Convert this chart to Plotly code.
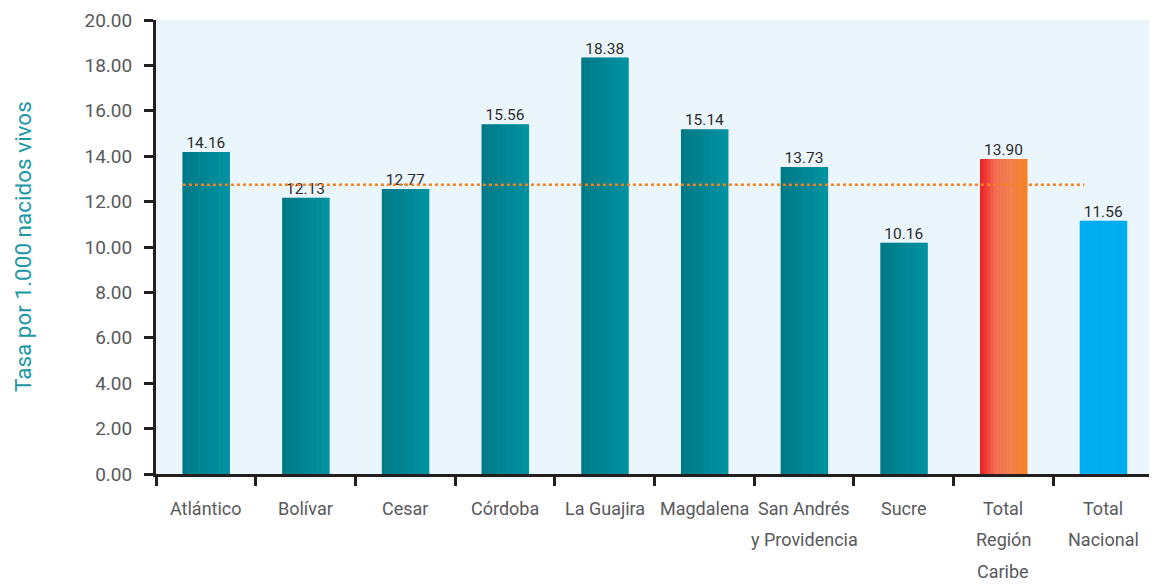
import plotly.graph_objects as go

categories = ["Atlántico", "Bolívar", "Cesar", "Córdoba", "La Guajira", "Magdalena",
              "San Andrés y Providencia", "Sucre", "Total Región Caribe", "Total Nacional"]
tick_labels = ["Atlántico", "Bolívar", "Cesar", "Córdoba", "La Guajira", "Magdalena",
               "San Andrés<br>y Providencia", "Sucre", "Total<br>Región<br>Caribe", "Total<br>Nacional"]
bar_values = [14.18, 12.17, 12.56, 15.41, 18.35, 15.19, 13.52, 10.19, 13.88, 11.16]
value_labels = ["14.16", "12.13", "12.77", "15.56", "18.38", "15.14", "13.73", "10.16", "13.90", "11.56"]
reference_value = 12.74
reference_span = [-0.23, 8.81]
y_ticks = [0, 2, 4, 6, 8, 10, 12, 14, 16, 18, 20]

FONT = "Roboto, Liberation Sans, sans-serif"

# colour gradients (left -> right) per bar
teal = [(0x00, 0x78, 0x86), (0x00, 0x93, 0xa2)]
orange = [(0xed, 0x1c, 0x24), (0xf2, 0x6e, 0x50), (0xf4, 0x80, 0x50), (0xf5, 0x82, 0x20)]
blue = [(0x00, 0xae, 0xef), (0x00, 0xae, 0xef)]
stops = [teal] * 8 + [orange, blue]


def interp(cols, t):
    n = len(cols) - 1
    pos = t * n
    i = min(int(pos), n - 1)
    f = pos - i
    a, b = cols[i], cols[i + 1]
    return "rgb(%d,%d,%d)" % tuple(round(a[k] + (b[k] - a[k]) * f) for k in range(3))


N = 14
bar_w = 0.47
fig = go.Figure()
for k in range(N):
    t = (k + 0.5) / N
    fig.add_trace(go.Bar(
        x=categories, y=bar_values,
        width=bar_w / N * 1.2, offset=-bar_w / 2 + k * bar_w / N,
        marker=dict(color=[interp(s, t) for s in stops], line=dict(width=0)),
        showlegend=False, hoverinfo="skip",
    ))

fig.add_trace(go.Scatter(
    x=categories, y=bar_values, mode="text", text=value_labels,
    textposition="top center",
    textfont=dict(family=FONT, size=15.5, color="#2b2b2b"),
    showlegend=False, cliponaxis=False,
))

fig.add_shape(type="line", xref="x", yref="y",
              x0=reference_span[0], x1=reference_span[1],
              y0=reference_value, y1=reference_value,
              line=dict(color="#f58220", width=2.5, dash="3px,3px"))

# category labels, one line per annotation for reference-like line spacing
for cat, lab in zip(categories, tick_labels):
    for i, line in enumerate(lab.split("<br>")):
        fig.add_annotation(text=line, xref="x", yref="paper", x=cat, y=0,
                           yshift=-(34 + 31.5 * i), xanchor="center", yanchor="middle",
                           showarrow=False,
                           font=dict(family=FONT, size=18, color="#58595b"))

fig.add_annotation(text="Tasa por 1.000 nacidos vivos", textangle=-90,
                   xref="paper", yref="paper", x=0, y=0.5, xshift=-133,
                   xanchor="center", yanchor="middle", showarrow=False,
                   font=dict(family=FONT, size=22.5, color="#1b97a6"))

# the page body adds an 8px offset; size the figure so the plot lands where the reference's does
fig.update_layout(
    width=1149, height=577,
    margin=dict(l=148, r=4, t=12, b=111),
    paper_bgcolor="white", plot_bgcolor="#ebf6fc",
    barmode="overlay",
    xaxis=dict(type="category", tickvals=categories, showticklabels=False,
               tickson="boundaries", ticks="outside", ticklen=9, tickwidth=2.5,
               tickcolor="#231f20", showline=True, linecolor="#231f20", linewidth=3,
               showgrid=False, zeroline=False, automargin=False,
               range=[-0.5, 9.5]),
    yaxis=dict(range=[0, 20], tickvals=y_ticks, tickformat=".2f",
               ticks="outside", ticklen=9, tickwidth=2.5, tickcolor="#231f20",
               showline=True, linecolor="#231f20", linewidth=3,
               showgrid=False, zeroline=False, ticklabelstandoff=8, automargin=False,
               ticklabeloverflow="allow",
               tickfont=dict(family=FONT, size=19, color="#58595b")),
)

fig.write_html("out.html")
